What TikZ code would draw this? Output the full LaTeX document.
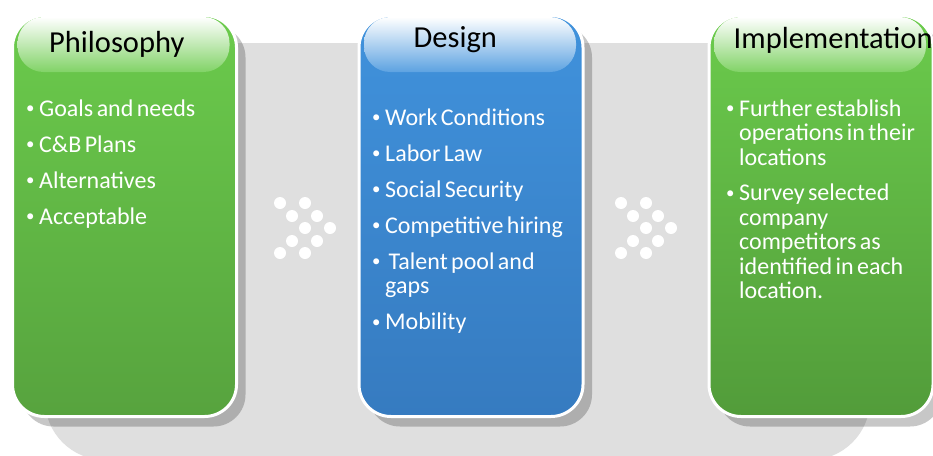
\documentclass[tikz,border=0pt]{standalone}
\usepackage{fontspec}
\setmainfont{Carlito}
\usetikzlibrary{shadows}
\definecolor{philtop}{HTML}{6BCB4C}
\definecolor{philbot}{HTML}{57A33E}
\definecolor{destop}{HTML}{4092DC}
\definecolor{desbot}{HTML}{367BC0}
\definecolor{impltop}{HTML}{6BCB4C}
\definecolor{implbot}{HTML}{529C3A}
\definecolor{backgray}{HTML}{DFDFDF}
\newcommand{\stageitem}[1]{\spaceskip=3.4pt\relax\hangindent=14pt\hangafter=1\noindent
	\makebox[14pt][l]{\rule{0pt}{19pt}\hspace{1pt}\raisebox{2.4pt}{\scalebox{0.7}{\textbullet}}}#1\par}

\begin{document}
\begin{tikzpicture}[x=1pt, y=-1pt,
	stagebox/.style={draw=white, line width=3pt, rounded corners=32pt, minimum width=224pt, minimum height=401pt, inner sep=0pt,
		drop shadow={shadow xshift=9pt, shadow yshift=-10pt, opacity=0.22, fill=black}},
	stagetab/.style={rounded corners=26pt, minimum width=212pt, minimum height=55pt, inner sep=0pt},
	stagehead/.style={anchor=base west, inner sep=0pt, font=\fontsize{30.5}{30.5}\selectfont},
	stagelist/.style={anchor=north west, inner sep=0pt, text=white, text width=215pt, align=left,
		font=\fontsize{24}{24.5}\selectfont}]
	\useasboundingbox (0,0) rectangle (933,455);
	\fill[backgray, rounded corners=60pt] (45,43) rectangle (870,460);
	% three stages
	\node[stagebox, top color=philtop, bottom color=philbot] (philo) at (124.5,216) {};
	\node[stagebox, top color=destop, bottom color=desbot] (des) at (471,216) {};
	\node[stagebox, top color=impltop, bottom color=implbot] (impl) at (821,216) {};
	\node[stagetab, top color=white, bottom color=philtop!85!white] (philotab) at (123.5,44.5) {};
	\node[stagetab, top color=white, bottom color=destop!85!white] (destab) at (470,44.5) {};
	\node[stagetab, top color=white, bottom color=impltop!85!white] (impltab) at (820,44.5) {};
	\node[stagehead] (philohead) at (49,52) {Philosophy};
	\node[stagehead] (deshead) at (413.5,47) {Design};
	\node[stagehead] (implhead) at (733.5,48) {Implementation};
	% bullet lists
	\node[stagelist] (philolist) at (25,97) {\parskip=11.5pt
		\stageitem{Goals and needs}
		\stageitem{C\&B Plans}
		\stageitem{Alternatives}
		\stageitem{Acceptable}};
	\node[stagelist] (deslist) at (371,106) {\parskip=11.5pt
		\stageitem{Work Conditions}
		\stageitem{Labor Law}
		\stageitem{Social Security}
		\stageitem{Competitive hiring}
		\stageitem{\ Talent pool and\newline gaps}
		\stageitem{Mobility}};
	\node[stagelist] (impllist) at (725,97) {\parskip=11pt
		\stageitem{Further establish\newline operations in their\newline locations}
		\stageitem{Survey selected\newline company\newline competitors as\newline identified in each\newline location.}};
	% dots between stages
	\foreach \dx in {0,341}
		\foreach \x/\y in {280/203,305/203,292/216,317/216,305/228,330/228,292/241,317/241,280/253,305/253}
			\fill[white] (\x+\dx,\y) circle (6pt);
\end{tikzpicture}
\end{document}
